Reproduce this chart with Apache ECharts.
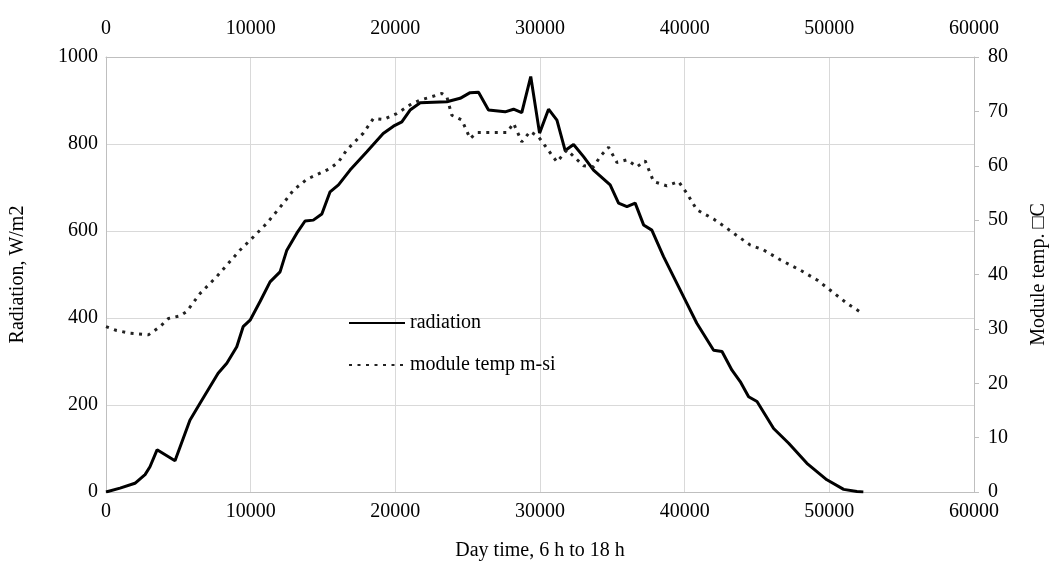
<!DOCTYPE html>
<html>
<head>
<meta charset="utf-8">
<script src="https://cdn.jsdelivr.net/npm/echarts@6/dist/echarts.min.js"></script>
<style>html,body{margin:0;padding:0;background:#fff;}#c{width:1060px;height:573px;}</style>
</head>
<body>
<div id="c"></div>
<script>
// Radiation (W/m2) vs day time (s)
const radX = [0, 970, 2000, 2700, 3040, 3530, 4770, 5800, 6500, 7750, 8350, 9040, 9480, 9960, 10650, 11340, 12030, 12500, 13190, 13760, 14330, 14920, 15490, 16070, 16870, 18030, 19160, 19870, 20450, 21020, 21720, 23560, 24480, 25170, 25750, 26440, 27590, 28170, 28740, 29360, 29970, 30590, 31170, 31740, 32320, 33010, 33700, 34850, 35430, 36010, 36580, 37160, 37730, 38540, 39230, 40040, 40840, 42000, 42580, 43270, 43840, 44420, 45000, 46150, 47190, 48450, 49830, 50990, 51910, 52350];
const radY = [0, 9, 20, 40, 58, 97, 72, 165, 204, 273, 296, 334, 380, 395, 438, 483, 506, 556, 595, 623, 625, 639, 690, 706, 740, 782, 824, 841, 851, 878, 895, 897, 905, 918, 919, 878, 874, 880, 872, 955, 825, 880, 855, 785, 799, 771, 740, 706, 664, 656, 664, 614, 602, 541, 495, 441, 388, 326, 323, 280, 254, 219, 208, 146, 112, 66, 28, 6, 1, 0];
// Module temperature (°C) vs day time (s)
const tempX = [0, 740, 1660, 2930, 3730, 4310, 5120, 5580, 6500, 7650, 9270, 9960, 11110, 12260, 12950, 13880, 15490, 16070, 16640, 17790, 18490, 19180, 20100, 21020, 21720, 22410, 23220, 23560, 23900, 24600, 25170, 25640, 27710, 28170, 28740, 29320, 29900, 30480, 31170, 31860, 33010, 33700, 34160, 34740, 35320, 36010, 36700, 37270, 37850, 38770, 39580, 40160, 40840, 42000, 42920, 43380, 44540, 45460, 46610, 47990, 49150, 50070, 51220, 52260];
const tempY = [30.4, 29.7, 29.2, 28.9, 30.4, 31.9, 32.4, 33.2, 36.5, 39.6, 44.5, 46.3, 49.4, 53.1, 55.5, 57.5, 59.5, 60.7, 62.9, 66, 68.7, 68.5, 69.6, 71.2, 72.1, 72.6, 73.3, 72.7, 69.3, 68.4, 65, 66.1, 66.1, 67.8, 64.4, 66.3, 65.3, 63.2, 60.7, 62.9, 60, 59.8, 61.7, 63.4, 60.6, 61.1, 59.8, 60.9, 57.1, 56.3, 57.1, 54.9, 51.9, 50.2, 48.5, 47.6, 45.4, 44.5, 42.7, 40.8, 39, 37.1, 34.7, 32.9];
const seriesNames = ['radiation', 'module temp m-si'];
const xTitle = 'Day time, 6 h to 18 h';
const yLeftTitle = 'Radiation, W/m2';
const yRightTitle = 'Module temp. \u25A1C';

const FONT = 'Liberation Serif';
const gridC = '#d9d9d9';
const axisC = '#bfbfbf';
const lbl = {fontFamily: FONT, fontSize: 20, color: '#000'};
const plain = v => String(v);

const chart = echarts.init(document.getElementById('c'), null, {renderer: 'canvas'});
chart.setOption({
  animation: false,
  backgroundColor: '#fff',
  grid: {left: 106, right: 86, top: 57, bottom: 81},
  legend: {
    left: 343, top: 308, orient: 'vertical', itemGap: 22, itemWidth: 56, itemHeight: 12,
    itemStyle: {opacity: 0},
    textStyle: {fontFamily: FONT, fontSize: 20, color: '#000'},
    data: seriesNames
  },
  xAxis: [
    {type: 'value', position: 'bottom', min: 0, max: 60000, interval: 10000,
     name: xTitle, nameLocation: 'middle', nameGap: 49, nameTextStyle: lbl,
     axisLine: {show: true, onZero: false, lineStyle: {color: axisC}}, axisTick: {show: false},
     axisLabel: Object.assign({margin: 10, formatter: plain}, lbl),
     splitLine: {show: true, lineStyle: {color: gridC, width: 1}}},
    {type: 'value', position: 'top', min: 0, max: 60000, interval: 10000,
     axisLine: {show: true, onZero: false, lineStyle: {color: axisC}}, axisTick: {show: false},
     axisLabel: Object.assign({margin: 18, formatter: plain}, lbl),
     splitLine: {show: false}}
  ],
  yAxis: [
    {type: 'value', position: 'left', min: 0, max: 1000, interval: 200,
     name: yLeftTitle, nameLocation: 'middle', nameGap: 78, nameRotate: 90, nameTextStyle: lbl,
     axisLine: {show: true, onZero: false, lineStyle: {color: axisC}}, axisTick: {show: false},
     axisLabel: Object.assign({margin: 8, formatter: plain}, lbl),
     splitLine: {show: true, lineStyle: {color: gridC, width: 1}}},
    {type: 'value', position: 'right', min: 0, max: 80, interval: 10,
     name: yRightTitle, nameLocation: 'middle', nameGap: 55, nameRotate: 90, nameTextStyle: lbl,
     axisLine: {show: true, onZero: false, lineStyle: {color: axisC}},
     axisTick: {show: true, inside: false, length: 5, lineStyle: {color: axisC}},
     axisLabel: Object.assign({margin: 14, formatter: plain}, lbl),
     splitLine: {show: false}}
  ],
  series: [
    {name: seriesNames[0], type: 'line', xAxisIndex: 0, yAxisIndex: 0, symbol: 'none',
     lineStyle: {color: '#000', width: 3}, itemStyle: {color: '#000'},
     data: radX.map((x, i) => [x, radY[i]])},
    {name: seriesNames[1], type: 'line', xAxisIndex: 0, yAxisIndex: 1, symbol: 'none',
     lineStyle: {color: '#222', width: 3, type: [3, 5.5]}, itemStyle: {color: '#222'},
     data: tempX.map((x, i) => [x, tempY[i]])}
  ]
});
</script>
</body>
</html>
